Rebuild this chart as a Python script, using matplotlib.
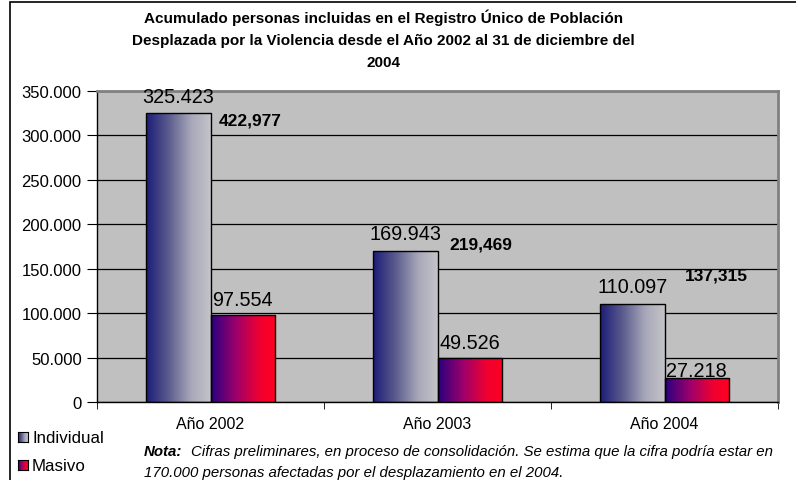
import numpy as np
import matplotlib
matplotlib.use("Agg")
import matplotlib.pyplot as plt
from matplotlib.colors import LinearSegmentedColormap
from matplotlib.patches import Rectangle

plt.rcParams['font.family'] = ['Liberation Sans', 'DejaVu Sans']

# ---- data ----
categories = ["Año 2002", "Año 2003", "Año 2004"]
individual = [325423, 169943, 110097]
masivo = [97554, 49526, 27218]
series_names = ["Individual", "Masivo"]
y_ticks = [0, 50000, 100000, 150000, 200000, 250000, 300000, 350000]
y_tick_labels = ["0", "50.000", "100.000", "150.000", "200.000", "250.000", "300.000", "350.000"]
title = ("Acumulado personas incluidas en el Registro Único de Población\n"
         "Desplazada por la Violencia desde el Año 2002 al 31 de diciembre del\n"
         "2004")
note_bold = "Nota:"
note_line1 = "Cifras preliminares, en proceso de consolidación. Se estima que la cifra podría estar en"
note_line2 = "170.000 personas afectadas por el desplazamiento en el 2004."

totals = [a + b for a, b in zip(individual, masivo)]

# placement of the total annotations (x offset from category centre, y in data units)
total_dx = [0.035, 0.053, 0.088]
total_y = [317000, 177800, 142900]
# value label offsets (points above bar top)
ind_label_off = [7.5, 8.5, 8.5]
mas_label_off = [7.5, 7.5, 1.5]

# ---- figure ----
W, H = 796, 481
fig = plt.figure(figsize=(W / 100, H / 100), dpi=100)
fig.patch.set_facecolor('white')

ax_l, ax_r, ax_t, ax_b = 97, 778, 92, 403
ax = fig.add_axes([ax_l / W, 1 - ax_b / H, (ax_r - ax_l) / W, (ax_b - ax_t) / H])
ax.set_facecolor('#c0c0c0')

cmap_ind = LinearSegmentedColormap.from_list(
    'ind', [(0, '#1c1c78'), (0.35, '#5c5c8e'), (0.7, '#a8a8ba'), (1.0, '#c4c4c8')])
cmap_mas = LinearSegmentedColormap.from_list(
    'mas', [(0, '#2a0080'), (0.4, '#a0006a'), (0.75, '#f00030'), (1.0, '#ff0020')])

grad = np.linspace(0, 1, 256).reshape(1, -1)

x = np.arange(len(categories))
bw = 0.285

ax.set_axisbelow(True)
ax.yaxis.grid(True, color='#000000', linewidth=0.9)

def grad_bars(xs, vals, cmap):
    bars = ax.bar(xs, vals, width=bw, align='edge', facecolor='none',
                  edgecolor='black', linewidth=1.0, zorder=3)
    for b in bars:
        x0, y0 = b.get_x(), b.get_y()
        w, h = b.get_width(), b.get_height()
        im = ax.imshow(grad, cmap=cmap, extent=[x0, x0 + w, y0, y0 + h],
                       aspect='auto', zorder=2, interpolation='bilinear')
        im.set_clip_path(b)
    return bars

bars_i = grad_bars(x - bw, individual, cmap_ind)
bars_m = grad_bars(x, masivo, cmap_mas)

ax.set_xlim(-0.5, len(categories) - 0.5)
ax.set_ylim(0, 350000)

ax.set_yticks(y_ticks)
ax.set_yticklabels(y_tick_labels, fontsize=12)
ax.set_xticks(x)
ax.set_xticklabels(categories, fontsize=11.5)
ax.tick_params(axis='x', length=0, pad=10)
ax.set_xticks(np.arange(len(categories) + 1) - 0.5, minor=True)
ax.tick_params(axis='x', which='minor', length=5, direction='out', color='black')
ax.tick_params(axis='y', length=7, direction='out', color='black', pad=4)

for s in ['left', 'bottom']:
    ax.spines[s].set_color('black')
    ax.spines[s].set_linewidth(1.0)
for s in ['top', 'right']:
    ax.spines[s].set_color('#808080')
    ax.spines[s].set_linewidth(2.0)

# value labels
for b, v, off in zip(bars_i, individual, ind_label_off):
    ax.annotate(f"{v:,}".replace(",", "."), (b.get_x() + b.get_width() / 2, v),
                xytext=(0, off), textcoords='offset points', ha='center',
                va='baseline', fontsize=14.3, zorder=5)
for b, v, off in zip(bars_m, masivo, mas_label_off):
    ax.annotate(f"{v:,}".replace(",", "."), (b.get_x() + b.get_width() / 2, v),
                xytext=(0, off), textcoords='offset points', ha='center',
                va='baseline', fontsize=14.3, zorder=5)

# totals
for xi, t, dx, ty in zip(x, totals, total_dx, total_y):
    ax.text(xi + dx, ty, f"{t:,}", ha='left', va='center', fontsize=12.5,
            fontweight='bold', zorder=5)

# title
fig.text(0.482, 1 - 9 / H, title, ha='center', va='top', fontsize=11,
         fontweight='bold', linespacing=1.75)

# legend
def legend_square(px, py, cmap):
    a = fig.add_axes([px / W, 1 - (py + 10) / H, 10 / W, 10 / H])
    a.imshow(grad, cmap=cmap, aspect='auto', extent=[0, 1, 0, 1])
    a.set_xticks([]); a.set_yticks([])
    for s in a.spines.values():
        s.set_color('black'); s.set_linewidth(0.8)

legend_square(18, 433, cmap_ind)
legend_square(18, 461, cmap_mas)
fig.text(32 / W, 1 - 438.5 / H, series_names[0], ha='left', va='center', fontsize=12.2)
fig.text(32 / W, 1 - 466.5 / H, series_names[1], ha='left', va='center', fontsize=12.2)

# note
t1 = fig.text(144 / W, 1 - 452 / H, note_bold, ha='left', va='center', fontsize=10.8,
              fontweight='bold', fontstyle='italic')
plt.annotate(note_line1, xy=(1, 0), xycoords=t1, xytext=(6, 0),
             textcoords='offset points', ha='left', va='bottom',
             fontsize=10.8, fontstyle='italic', annotation_clip=False)
fig.text(144 / W, 1 - 473 / H, note_line2, ha='left', va='center', fontsize=10.8,
         fontstyle='italic')

# outer border
fig.patches.append(Rectangle((10 / W, -0.2), 1.2, 1.2 - 2.5 / H, transform=fig.transFigure,
                             fill=False, edgecolor='black', linewidth=1.2))

fig.savefig("out.png", dpi=100)
